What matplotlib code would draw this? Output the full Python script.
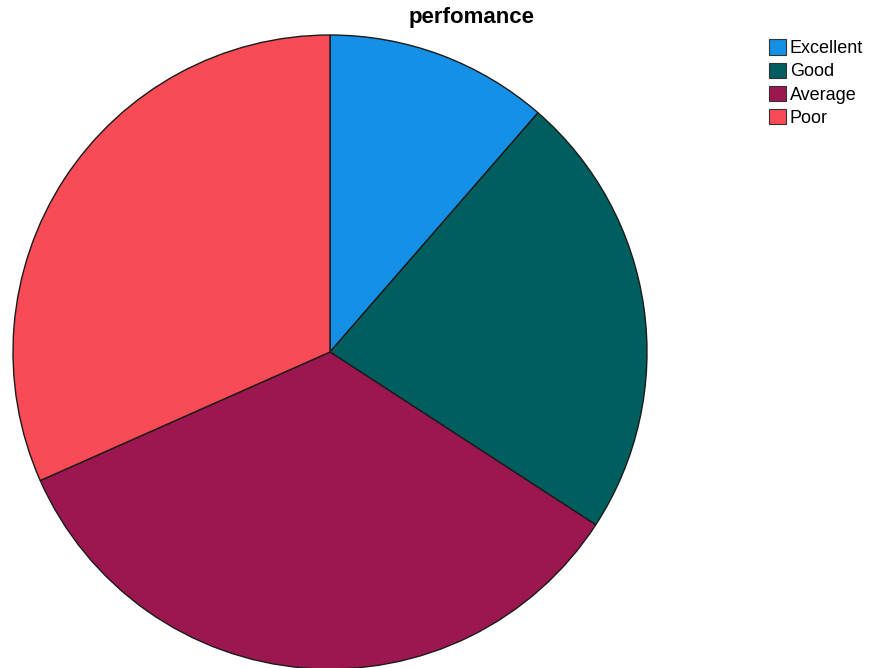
import matplotlib
matplotlib.use("Agg")
import matplotlib.pyplot as plt
from matplotlib.patches import Patch

plt.rcParams['font.family'] = ['Liberation Sans', 'DejaVu Sans']

categories = ["Excellent", "Good", "Average", "Poor"]
counts = [9, 18, 27, 25]
colors = ["#1490E6", "#005E5E", "#9C1750", "#F94B55"]

W, H = 869, 668
fig = plt.figure(figsize=(W / 100, H / 100), dpi=100)
cx, cy, r = 330, 352, 317
ax = fig.add_axes([(cx - r) / W, (H - cy - r) / H, 2 * r / W, 2 * r / H])
ax.pie(counts, colors=colors, startangle=90, counterclock=False, radius=1,
       wedgeprops=dict(edgecolor="#1a1a1a", linewidth=1.0))
ax.set_xlim(-1, 1)
ax.set_ylim(-1, 1)
ax.set_aspect("equal")
ax.axis("off")

fig.text(472 / W, 1 - 18 / H, "perfomance", ha="center", va="center",
         fontsize=16, fontweight="bold")

handles = [Patch(facecolor=c, edgecolor="#333333", linewidth=0.8) for c in colors]
fig.legend(handles, categories, loc="upper left", bbox_to_anchor=(764 / W, 1 - 34 / H),
           frameon=False, fontsize=13, handlelength=0.92, handleheight=0.92,
           handletextpad=0.2, labelspacing=0.3, borderaxespad=0, borderpad=0.3)

fig.savefig("out.png", dpi=100)
